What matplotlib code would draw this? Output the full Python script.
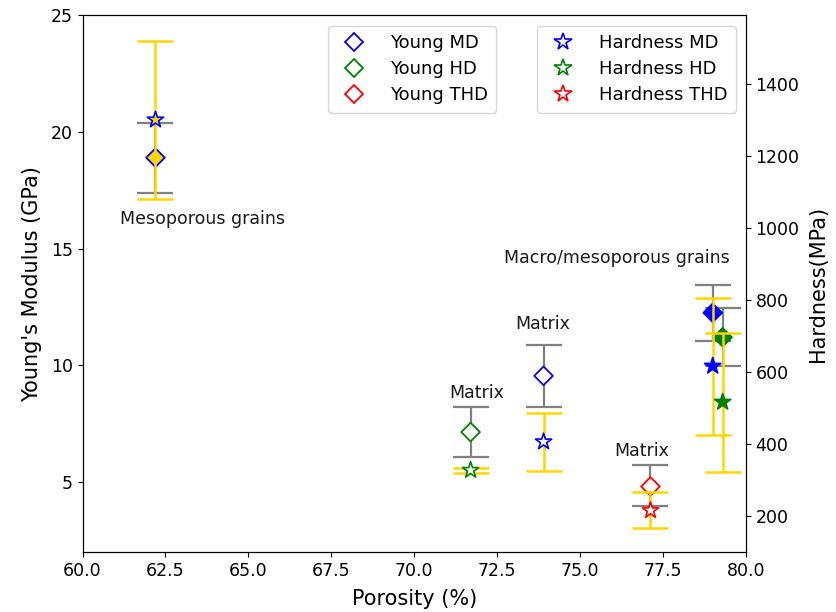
import matplotlib
matplotlib.use("Agg")
import matplotlib.pyplot as plt
from matplotlib.lines import Line2D

# ---- data ----
por_md = [62.2, 73.9, 79.0]
por_hd = [71.7, 79.3]
por_thd = [77.1]

young_md = [18.9, 9.55, 12.25]
young_md_err = [1.5, 1.33, 1.2]
young_hd = [7.14, 11.2]
young_hd_err = [1.07, 1.24]
young_thd = [4.85]
young_thd_err = [0.88]

hard_md = [1300, 407, 617]
hard_md_err = [220, 81, 190]
hard_hd = [328, 517]
hard_hd_err = [7, 193]
hard_thd = [218]
hard_thd_err = [50]

face_md = ['#FFD700', 'white', 'blue']
face_hd = ['white', 'green']
face_thd = ['white']

annotations = [
    ("Mesoporous grains", 63.63, 16.28),
    ("Matrix", 71.88, 8.8),
    ("Matrix", 73.88, 11.77),
    ("Matrix", 76.86, 6.33),
    ("Macro/mesoporous grains", 76.1, 14.6),
]

# ---- figure ----
fig = plt.figure(figsize=(8.36, 6.12), dpi=100)
ax = fig.add_axes([0.0987, 0.098, 0.7935, 0.877])
ax2 = ax.twinx()

GRAY = '#808080'
GOLD = '#FFD700'
cap = 13.3

for xs, ys, es, col, fc in [(por_md, young_md, young_md_err, 'blue', face_md),
                            (por_hd, young_hd, young_hd_err, 'green', face_hd),
                            (por_thd, young_thd, young_thd_err, 'red', face_thd)]:
    ax.errorbar(xs, ys, yerr=es, fmt='none', ecolor=GRAY, elinewidth=1.6,
                capsize=cap, capthick=1.6, zorder=2)
    ax.scatter(xs, ys, marker='D', s=90, facecolors=fc, edgecolors=col,
               linewidths=1.3, zorder=3)

for xs, ys, es, col, fc in [(por_md, hard_md, hard_md_err, 'blue', face_md),
                            (por_hd, hard_hd, hard_hd_err, 'green', face_hd),
                            (por_thd, hard_thd, hard_thd_err, 'red', face_thd)]:
    ax2.errorbar(xs, ys, yerr=es, fmt='none', ecolor=GOLD, elinewidth=1.8,
                 capsize=cap, capthick=1.8, zorder=2)
    ax2.scatter(xs, ys, marker='*', s=150, facecolors=fc, edgecolors=col,
                linewidths=1.2, zorder=3)

ax.set_xlim(60, 80)
ax.set_ylim(2, 25)
ax2.set_ylim(101, 1590)
ax.set_xticks([60, 62.5, 65, 67.5, 70, 72.5, 75, 77.5, 80])
ax.set_xticklabels(['60.0', '62.5', '65.0', '67.5', '70.0', '72.5', '75.0', '77.5', '80.0'])
ax.set_yticks([5, 10, 15, 20, 25])
ax2.set_yticks([200, 400, 600, 800, 1000, 1200, 1400])

ax.tick_params(labelsize=12.5)
ax2.tick_params(labelsize=12.5)
ax.set_xlabel("Porosity (%)", fontsize=15, labelpad=7)
ax.set_ylabel("Young's Modulus (GPa)", fontsize=15, labelpad=6)
ax2.set_ylabel("Hardness(MPa)", fontsize=15, labelpad=6)

for txt, x, y in annotations:
    ax2.text(x, ax2.transData.inverted().transform(ax.transData.transform((x, y)))[1],
             txt, fontsize=12.5, ha='center', va='center', color='#1a1a1a')

h_young = [Line2D([], [], ls='none', marker='D', ms=9.5, mfc='none', mec=c, mew=1.3)
           for c in ['blue', 'green', 'red']]
h_hard = [Line2D([], [], ls='none', marker='*', ms=13, mfc='none', mec=c, mew=1.2)
          for c in ['blue', 'green', 'red']]
leg1 = ax2.legend(h_young, ['Young MD', 'Young HD', 'Young THD'], loc='upper left',
                  bbox_to_anchor=(0.37, 0.98), borderaxespad=0, fontsize=13,
                  labelspacing=0.45, handletextpad=1.0, borderpad=0.45)
ax2.add_artist(leg1)
ax2.legend(h_hard, ['Hardness MD', 'Hardness HD', 'Hardness THD'], loc='upper left',
           bbox_to_anchor=(0.685, 0.98), borderaxespad=0, fontsize=13,
           labelspacing=0.45, handletextpad=1.0, borderpad=0.45)

fig.savefig("out.png", dpi=100)
